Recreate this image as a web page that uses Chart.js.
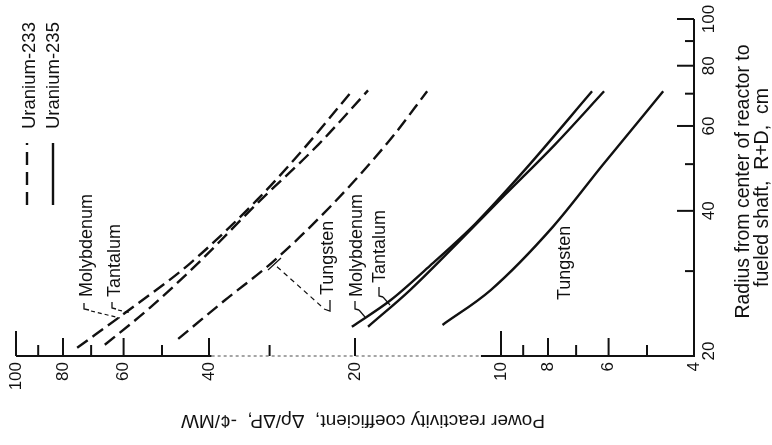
<!DOCTYPE html>
<html>
<head>
<meta charset="utf-8">
<script src="https://cdn.jsdelivr.net/npm/chart.js@4.4.1/dist/chart.umd.min.js"></script>
<style>
html,body{margin:0;padding:0;background:#fff;}
canvas{display:block;}
</style>
</head>
<body>
<canvas id="graficaReactividad" width="772" height="445"></canvas>
<script>
// Valores (coeficiente en cent/MW, radio en cm)
var coefTicks = [100, 80, 60, 40, 20, 10, 8, 6, 4];
var coefMenores = [90, 70, 50, 30, 9, 7, 5];
var radioTicks = [20, 40, 60, 80, 100];
var radioMenores = [30, 50, 70, 90];

// Uranio-233 (lineas a trazos)
var moU233Coef = [74.8, 58.2, 43.8, 31.8, 25.4, 20.2];
var moU233Radio = [20.8, 25.0, 31.1, 42.2, 54.1, 71.3];
var taU233Coef = [65.6, 52.9, 41.8, 31.7, 23.8, 18.8];
var taU233Radio = [21.1, 25.2, 31.4, 41.6, 54.9, 71.1];
var tuU233Coef = [46.3, 37.1, 29.5, 22.5, 16.9, 14.2];
var tuU233Radio = [21.7, 26.1, 31.4, 40.8, 56.3, 70.8];

// Uranio-235 (lineas continuas)
var moU235Coef = [20.3, 16.9, 14.0, 11.3, 8.92, 6.49];
var moU235Radio = [23.0, 26.1, 30.8, 37.6, 48.7, 70.8];
var taU235Coef = [18.8, 15.4, 12.4, 9.81, 7.74, 6.13];
var taU235Radio = [23.0, 27.4, 34.0, 43.2, 54.9, 70.8];
var tuU235Coef = [13.2, 10.5, 7.81, 6.16, 4.63];
var tuU235Radio = [23.2, 27.4, 37.1, 49.9, 70.8];

var fuente = '"Liberation Sans", Arial, sans-serif';

function puntos(coef, radio){
	var p = [];
	for(var i = 0 ; i < coef.length ; i++){
		p[i] = {x: coef[i], y: radio[i]};
	}
	return p;
}

function serie(coef, radio, trazos){
	return {
		data: puntos(coef, radio),
		showLine: true,
		borderColor: '#111',
		borderWidth: 2.4,
		borderDash: trazos ? [13, 6] : [],
		pointRadius: 0,
		cubicInterpolationMode: 'monotone',
		fill: false
	};
}

function textoVertical(ctx, txt, x, y, align, base){
	ctx.save();
	ctx.translate(x, y);
	ctx.rotate(-Math.PI/2);
	ctx.textAlign = align;
	ctx.textBaseline = base;
	ctx.fillText(txt, 0, 0);
	ctx.restore();
}

function linea(ctx, pts, dash, ancho){
	ctx.save();
	ctx.setLineDash(dash);
	ctx.lineWidth = ancho;
	ctx.beginPath();
	ctx.moveTo(pts[0][0], pts[0][1]);
	for(var i = 1 ; i < pts.length ; i++) ctx.lineTo(pts[i][0], pts[i][1]);
	ctx.stroke();
	ctx.restore();
}

// Ejes, marcas y rotulos girados como en la figura original
var ejesGirados = {
	id: 'ejesGirados',
	afterDatasetsDraw: function(chart){
		var ctx = chart.ctx;
		var sx = chart.scales.x, sy = chart.scales.y;
		var yBase = sy.getPixelForValue(20), yTop = sy.getPixelForValue(100);
		var xIzq = sx.getPixelForValue(100), xDer = sx.getPixelForValue(4);
		ctx.save();
		ctx.strokeStyle = '#111';
		ctx.fillStyle = '#111';

		// eje inferior (tramo central tenue)
		var xa = sx.getPixelForValue(39.5), xb = sx.getPixelForValue(11);
		linea(ctx, [[xIzq, yBase], [xa, yBase]], [], 2);
		ctx.strokeStyle = '#888';
		linea(ctx, [[xa, yBase], [xb, yBase]], [3, 3], 1.3);
		ctx.strokeStyle = '#111';
		linea(ctx, [[xb, yBase], [xDer + 1, yBase]], [], 2);
		// eje derecho
		linea(ctx, [[xDer, yBase + 1], [xDer, yTop]], [], 2);

		// marcas eje x (hacia arriba)
		for(var i = 0 ; i < coefTicks.length ; i++){
			var v = coefTicks[i];
			if(v == 4) continue;
			var largo = (v == 100 || v == 10) ? 25 : 18;
			var px = sx.getPixelForValue(v);
			linea(ctx, [[px, yBase], [px, yBase - largo]], [], 2);
		}
		for(var i = 0 ; i < coefMenores.length ; i++){
			var px = sx.getPixelForValue(coefMenores[i]);
			linea(ctx, [[px, yBase], [px, yBase - 11]], [], 2);
		}
		// marcas eje derecho (hacia la izquierda)
		for(var i = 0 ; i < radioTicks.length ; i++){
			var v = radioTicks[i];
			if(v == 20) continue;
			var py = sy.getPixelForValue(v);
			linea(ctx, [[xDer, py], [xDer - 17, py]], [], 2);
		}
		for(var i = 0 ; i < radioMenores.length ; i++){
			var py = sy.getPixelForValue(radioMenores[i]);
			linea(ctx, [[xDer, py], [xDer - 9, py]], [], 2);
		}

		// rotulos de marcas
		ctx.font = '17px ' + fuente;
		for(var i = 0 ; i < coefTicks.length ; i++){
			textoVertical(ctx, String(coefTicks[i]), sx.getPixelForValue(coefTicks[i]), yBase + 6, 'right', 'middle');
		}
		for(var i = 0 ; i < radioTicks.length ; i++){
			var py = sy.getPixelForValue(radioTicks[i]);
			if(radioTicks[i] == 20) py -= 5;
			textoVertical(ctx, String(radioTicks[i]), xDer + 15, py, 'center', 'middle');
		}

		// titulos de ejes
		ctx.font = '19.5px ' + fuente;
		var yMedio = (yBase + yTop) / 2;
		textoVertical(ctx, 'Radius from center of reactor to', xDer + 50, yMedio - 6, 'center', 'middle');
		textoVertical(ctx, 'fueled shaft,  R+D,  cm', xDer + 69, yMedio, 'center', 'middle');
		ctx.font = '19px ' + fuente;
		ctx.save();
		ctx.translate((xIzq + xDer) / 2 + 8, yBase + 64);
		ctx.rotate(Math.PI);
		ctx.textAlign = 'center';
		ctx.textBaseline = 'middle';
		ctx.fillText('Power reactivity coefficient,  \u0394\u03c1/\u0394P,  -\u00a2/MW', 0, 0);
		ctx.restore();

		// leyenda
		ctx.font = '18.5px ' + fuente;
		linea(ctx, [[27, 205], [27, 143]], [13, 7], 2.4);
		linea(ctx, [[53, 205], [53, 143]], [], 2.4);
		textoVertical(ctx, 'Uranium-233', 30, 129, 'left', 'middle');
		textoVertical(ctx, 'Uranium-235', 54, 129, 'left', 'middle');

		// nombres de las curvas
		ctx.font = '18px ' + fuente;
		textoVertical(ctx, 'Molybdenum', 92, 297, 'left', 'alphabetic');
		textoVertical(ctx, 'Tantalum', 120, 297, 'left', 'alphabetic');
		textoVertical(ctx, 'Tungsten', 333, 295, 'left', 'alphabetic');
		textoVertical(ctx, 'Molybdenum', 362, 297, 'left', 'alphabetic');
		textoVertical(ctx, 'Tantalum', 385, 283, 'left', 'alphabetic');
		textoVertical(ctx, 'Tungsten', 570, 300, 'left', 'alphabetic');

		// lineas de referencia
		linea(ctx, [[84, 303], [84, 309], [89, 310]], [], 1.3);
		linea(ctx, [[91, 311], [120, 318]], [4, 3], 1.2);
		linea(ctx, [[112, 302], [112, 308], [116, 309]], [], 1.3);
		linea(ctx, [[118, 310], [131, 313]], [4, 3], 1.2);
		linea(ctx, [[330, 300], [330, 311], [324, 309]], [], 1.3);
		linea(ctx, [[321, 306], [274, 264]], [5, 4], 1.2);
		linea(ctx, [[268, 270], [281, 258]], [], 1.2);
		linea(ctx, [[355, 301], [355, 309], [359, 310]], [], 1.3);
		linea(ctx, [[359, 310], [365, 317]], [], 1.2);
		linea(ctx, [[379, 287], [379, 296], [383, 297]], [], 1.3);
		linea(ctx, [[383, 297], [390, 305]], [], 1.2);
		ctx.restore();
	}
};

var ctx = document.getElementById('graficaReactividad').getContext('2d');
var grafica = new Chart(ctx, {
	type: 'scatter',
	data: {
		datasets: [
			serie(moU233Coef, moU233Radio, true),
			serie(taU233Coef, taU233Radio, true),
			serie(tuU233Coef, tuU233Radio, true),
			serie(moU235Coef, moU235Radio, false),
			serie(taU235Coef, taU235Radio, false),
			serie(tuU235Coef, tuU235Radio, false)
		]
	},
	options: {
		responsive: false,
		animation: false,
		layout: {padding: {left: 16, right: 78, top: 19, bottom: 89}},
		plugins: {legend: {display: false}, tooltip: {enabled: false}},
		scales: {
			x: {type: 'logarithmic', reverse: true, min: 4, max: 100, display: false},
			y: {type: 'logarithmic', position: 'right', min: 20, max: 100, display: false}
		}
	},
	plugins: [ejesGirados]
});
</script>
</body>
</html>
